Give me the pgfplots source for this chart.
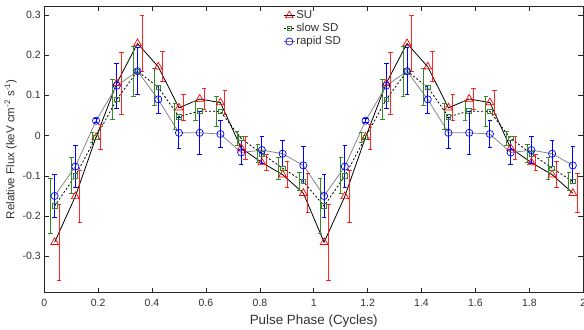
\documentclass[border=0pt]{standalone}
\usepackage{pgfplots}
\pgfplotsset{compat=1.18}
\usepackage{pgfplotstable}
\usepackage{fontspec}
\setmainfont{Liberation Sans}
\definecolor{sdgreen}{RGB}{56,135,40}
\definecolor{rgray}{RGB}{135,135,135}
\definecolor{txt}{RGB}{50,50,50}

\pgfplotstableread{
x      su     sue    sl     sle    ra     rae
0.0385 -0.265 0.095 -0.175 0.068 -0.150 0.053
0.1154 -0.151 0.065 -0.100 0.045 -0.077 0.052
0.1923 -0.004 0.031 -0.004 0.012  0.037 0.005
0.2692  0.130 0.077  0.090 0.049  0.124 0.056
0.3462  0.229 0.069  0.160 0.062  0.160 0.059
0.4231  0.171 0.037  0.120 0.046  0.090 0.034
0.5000  0.069 0.032  0.047 0.033  0.007 0.038
0.5769  0.091 0.026  0.061 0.024  0.007 0.054
0.6538  0.082 0.029  0.060 0.038  0.004 0.034
0.7308 -0.031 0.028 -0.007 0.018 -0.042 0.030
0.8077 -0.067 0.019 -0.045 0.023 -0.036 0.033
0.8846 -0.097 0.033 -0.081 0.027 -0.045 0.032
0.9615 -0.143 0.049 -0.114 0.022 -0.074 0.046
1.0385 -0.265 0.095 -0.175 0.068 -0.150 0.053
1.1154 -0.151 0.065 -0.100 0.045 -0.077 0.052
1.1923 -0.004 0.031 -0.004 0.012  0.037 0.005
1.2692  0.130 0.077  0.090 0.049  0.124 0.056
1.3462  0.229 0.069  0.160 0.062  0.160 0.059
1.4231  0.171 0.037  0.120 0.046  0.090 0.034
1.5000  0.069 0.032  0.047 0.033  0.007 0.038
1.5769  0.091 0.026  0.061 0.024  0.007 0.054
1.6538  0.082 0.029  0.060 0.038  0.004 0.034
1.7308 -0.031 0.028 -0.007 0.018 -0.042 0.030
1.8077 -0.067 0.019 -0.045 0.023 -0.036 0.033
1.8846 -0.097 0.033 -0.081 0.027 -0.045 0.032
1.9615 -0.143 0.049 -0.114 0.022 -0.074 0.046
}\data

\begin{document}
\begin{tikzpicture}
\begin{axis}[
  scale only axis, width=539.7pt, height=287pt,
  xmin=0, xmax=2, ymin=-0.39, ymax=0.322,
  xtick={0,0.2,0.4,0.6,0.8,1,1.2,1.4,1.6,1.8,2},
  xticklabels={0,0.2,0.4,0.6,0.8,1,1.2,1.4,1.6,1.8,2},
  ytick={-0.3,-0.2,-0.1,0,0.1,0.2,0.3},
  yticklabels={-0.3,-0.2,-0.1,0,0.1,0.2,0.3},
  tick align=inside, major tick length=5pt,
  tick style={black!85, line width=0.6pt},
  axis line style={black!85, line width=0.9pt},
  tick label style={font=\fontsize{10.5}{12}\selectfont, text=txt},
  xticklabel style={yshift=-3.5pt},
  xlabel={Pulse Phase (Cycles)},
  ylabel={Relative Flux (keV cm\textsuperscript{-2} s\textsuperscript{-1})},
  xlabel style={font=\fontsize{13.4}{15}\selectfont, text=txt, at={(axis description cs:0.5,0)}, anchor=base, yshift=-32pt},
  ylabel style={font=\fontsize{11.5}{13}\selectfont, text=txt, at={(axis description cs:-0.0445,0.5)}, anchor=south, rotate=0},
  legend style={at={(axis description cs:0.4435,0.99)}, anchor=north west, draw=none, fill=none,
    font=\fontsize{11.5}{13}\selectfont, text=txt, inner sep=0pt, row sep=0pt,
    nodes={text height=8.5pt, text depth=2.5pt, inner sep=1pt}},
  legend cell align=left,
  legend image code/.code={\draw[mark repeat=2,mark phase=2] plot coordinates {(0pt,0pt)(5.5pt,0pt)(11pt,0pt)};},
]
% lines with markers
\addplot[black, line width=0.8pt, mark=triangle, mark size=4.5pt, mark options={red, solid, fill=none, line width=0.7pt}] table[x=x, y=su] {\data};
\addlegendentry{SU}
\addplot[black, line width=0.8pt, dash pattern=on 2pt off 2pt, mark=square, mark size=2.3pt, mark options={sdgreen, solid, fill=none, line width=0.8pt}] table[x=x, y=sl] {\data};
\addlegendentry{slow SD}
\addplot[rgray, line width=0.8pt, mark=o, mark size=3.6pt, mark options={blue, solid, fill=none, line width=0.7pt}] table[x=x, y=ra] {\data};
\addlegendentry{rapid SD}
% error bars
\addplot[forget plot, draw=none, mark=none, error bars/.cd, y dir=both, y explicit,
  error bar style={draw=sdgreen, line width=1pt}, error mark options={rotate=90, mark size=2.3pt, draw=sdgreen, line width=1pt}]
  table[x expr=\thisrow{x}-0.0148, y=sl, y error=sle] {\data};
\addplot[forget plot, draw=none, mark=none, error bars/.cd, y dir=both, y explicit,
  error bar style={draw=blue, line width=1pt}, error mark options={rotate=90, mark size=2.3pt, draw=blue, line width=1pt}]
  table[x=x, y=ra, y error=rae] {\data};
\addplot[forget plot, draw=none, mark=none, error bars/.cd, y dir=both, y explicit,
  error bar style={draw=red, line width=1pt, draw opacity=0.85}, error mark options={rotate=90, mark size=2.3pt, draw=red, line width=1pt}]
  table[x expr=\thisrow{x}+0.0166, y=su, y error=sue] {\data};
\end{axis}
\pgfresetboundingbox
\path[use as bounding box] (current axis.south west) ++(-44.3pt,-37pt) rectangle ([shift={(0.8pt,6pt)}]current axis.north east);
\end{tikzpicture}
\end{document}
